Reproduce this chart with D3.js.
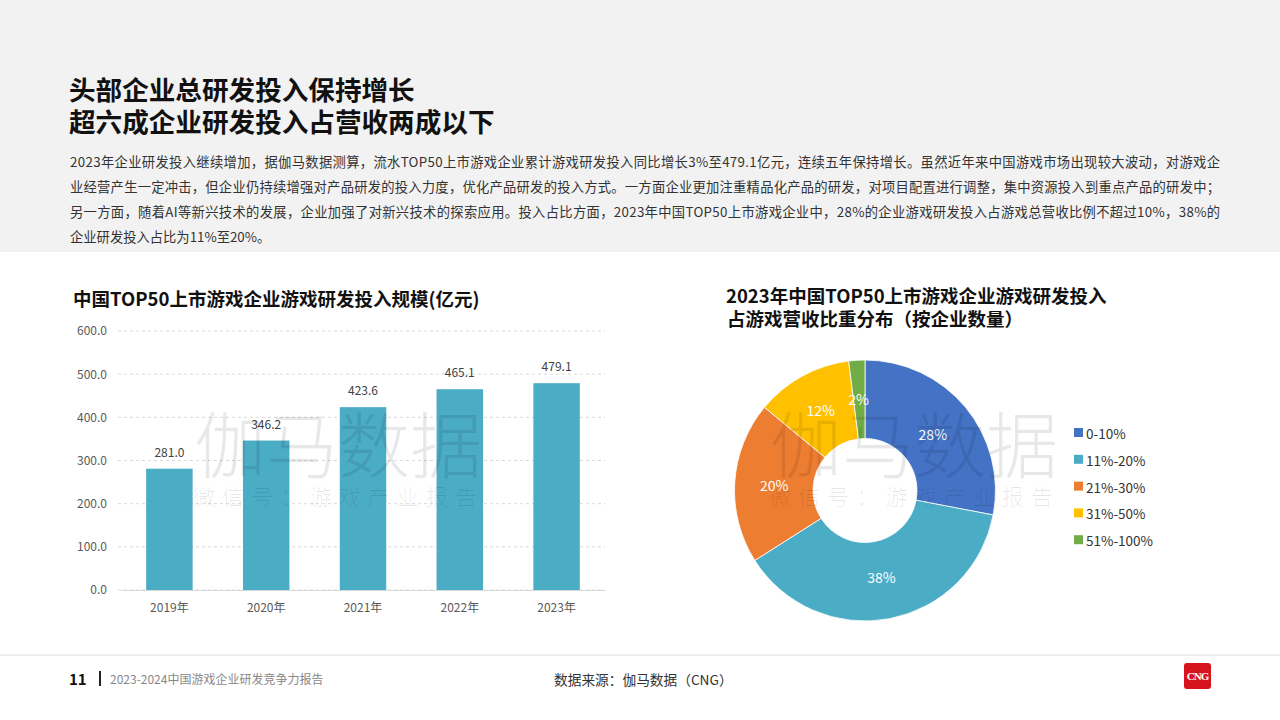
<!DOCTYPE html>
<html><head><meta charset="utf-8">
<script src="https://cdn.jsdelivr.net/npm/d3@7"></script>
<style>
html,body{margin:0;padding:0;background:#fff;}
svg{display:block;font-family:"Noto Sans CJK SC","Noto Sans",sans-serif;}
</style></head>
<body><svg id="c" width="1280" height="720"></svg>
<script>
const years = ["2019年","2020年","2021年","2022年","2023年"];
const rdValues = [281.0,346.2,423.6,465.1,479.1];
const yTicks = [0,100,200,300,400,500,600];
const shareLabels = ["0-10%","11%-20%","21%-30%","31%-50%","51%-100%"];
const shareValues = [28,38,20,12,2];
const shareColors = ["#4472c4","#4bacc6","#ed7d31","#ffc000","#70ad47"];
const titleLines = ["头部企业总研发投入保持增长","超六成企业研发投入占营收两成以下"];
const paraLines = [
"2023年企业研发投入继续增加，据伽马数据测算，流水TOP50上市游戏企业累计游戏研发投入同比增长3%至479.1亿元，连续五年保持增长。虽然近年来中国游戏市场出现较大波动，对游戏企",
"业经营产生一定冲击，但企业仍持续增强对产品研发的投入力度，优化产品研发的投入方式。一方面企业更加注重精品化产品的研发，对项目配置进行调整，集中资源投入到重点产品的研发中；",
"另一方面，随着AI等新兴技术的发展，企业加强了对新兴技术的探索应用。投入占比方面，2023年中国TOP50上市游戏企业中，28%的企业游戏研发投入占游戏总营收比例不超过10%，38%的",
"企业研发投入占比为11%至20%。"];

const svg = d3.select("#c");
svg.append("rect").attr("x",0).attr("y",0).attr("width",1280).attr("height",252).attr("fill","#f2f2f2");

titleLines.forEach((t,i)=>svg.append("text").attr("x",69).attr("y",100+i*32)
  .attr("font-size",26.6).attr("font-weight",700).attr("fill","#111").text(t));
paraLines.forEach((t,i)=>{
  const tx = svg.append("text").attr("x",70).attr("y",167+i*25)
    .attr("font-size",13.3).attr("fill","#333").text(t);
  if (i < 3) tx.attr("textLength",1150).attr("lengthAdjust","spacing");
});

// watermark helper
function watermark(x,y){
  const g = svg.append("g").attr("pointer-events","none");
  g.append("text").attr("x",x).attr("y",y).attr("font-size",72).attr("font-weight",300)
   .attr("fill","rgba(0,0,0,0.09)").text("伽马数据");
  g.append("text").attr("x",x-1).attr("y",y+33).attr("font-size",22).attr("font-weight",300)
   .attr("fill","rgba(0,0,0,0.09)").attr("letter-spacing",7.1).text("微信号：游戏产业报告");
}

// Bar chart
svg.append("text").attr("x",73).attr("y",306).attr("font-size",18.5).attr("font-weight",700)
  .attr("fill","#111").text("中国TOP50上市游戏企业游戏研发投入规模(亿元)");
const x = d3.scaleBand().domain(years).range([121,605]).paddingInner(0.52).paddingOuter(0.26);
const y = d3.scaleLinear().domain([0,600]).range([590,331]);
const gGrid = svg.append("g");
gGrid.selectAll("line").data(yTicks).join("line")
  .attr("x1",118).attr("x2",605).attr("y1",d=>y(d)).attr("y2",d=>y(d))
  .attr("stroke","#d9d9d9").attr("stroke-dasharray","3,3");
const yAxis = svg.append("g").attr("transform","translate(110,0)")
  .call(d3.axisLeft(y).tickValues(yTicks).tickFormat(d3.format(".1f")).tickSize(0));
yAxis.select(".domain").remove();
yAxis.selectAll("text").attr("font-size",12).attr("fill","#595959").attr("font-family","Noto Sans CJK SC");
svg.selectAll(".bar").data(rdValues).join("rect").attr("class","bar")
  .attr("x",(d,i)=>x(years[i])).attr("width",x.bandwidth())
  .attr("y",d=>y(d)).attr("height",d=>y(0)-y(d)).attr("fill","#4bacc6");
svg.selectAll(".vl").data(rdValues).join("text").attr("class","vl")
  .attr("x",(d,i)=>x(years[i])+x.bandwidth()/2).attr("y",d=>y(d)-12)
  .attr("text-anchor","middle").attr("font-size",12).attr("fill","#404040").text(d=>d.toFixed(1));
const xAxis = svg.append("g").attr("transform","translate(0,590)")
  .call(d3.axisBottom(x).tickSize(0).tickPadding(13));
xAxis.select(".domain").attr("stroke","#d9d9d9");
xAxis.selectAll("text").attr("font-size",12).attr("fill","#595959").attr("font-family","Noto Sans CJK SC");
watermark(194,472);

// Donut
svg.append("text").attr("x",726).attr("y",303).attr("font-size",18.5).attr("font-weight",700)
  .attr("fill","#111").text("2023年中国TOP50上市游戏企业游戏研发投入");
svg.append("text").attr("x",727).attr("y",326).attr("font-size",18.5).attr("font-weight",700)
  .attr("fill","#111").text("占游戏营收比重分布（按企业数量）");
const cx=865, cy=490.5, R=130.5, r0=52;
const pie = d3.pie().sort(null).value(d=>d)(shareValues);
const arc = d3.arc().innerRadius(r0).outerRadius(R);
const lab = d3.arc().innerRadius(88).outerRadius(88);
const gD = svg.append("g").attr("transform",`translate(${cx},${cy})`);
gD.selectAll("path").data(pie).join("path").attr("d",arc)
  .attr("fill",(d,i)=>shareColors[i]).attr("stroke","#fff").attr("stroke-width",0.8);
const labOff = [[0,0],[0,0],[-3,0],[-2,-3],[-1,-4]];
gD.selectAll(".pl").data(pie).join("text").attr("class","pl")
  .attr("transform",(d,i)=>{const c=lab.centroid(d);return `translate(${c[0]+labOff[i][0]},${c[1]+labOff[i][1]})`;})
  .attr("text-anchor","middle").attr("dominant-baseline","central")
  .attr("font-size",14).attr("fill","#fff").text(d=>d.data+"%");
const gL = svg.append("g");
shareLabels.forEach((t,i)=>{
  const yy = 433 + i*26.8;
  gL.append("rect").attr("x",1074).attr("y",yy-5).attr("width",9).attr("height",9).attr("fill",shareColors[i]);
  gL.append("text").attr("x",1086).attr("y",yy).attr("dominant-baseline","central")
    .attr("font-size",13.5).attr("fill","#333").text(t);
});
watermark(770,472);

// Footer
svg.append("line").attr("x1",0).attr("x2",1280).attr("y1",655).attr("y2",655).attr("stroke","#dcdcdc");
svg.append("text").attr("x",69).attr("y",685).attr("font-size",15).attr("font-weight",700).attr("fill","#111").text("11");
svg.append("rect").attr("x",99).attr("y",671).attr("width",2).attr("height",15).attr("fill","#222");
svg.append("text").attr("x",110).attr("y",684).attr("font-size",12).attr("fill","#888").text("2023-2024中国游戏企业研发竞争力报告");
svg.append("text").attr("x",554).attr("y",685).attr("font-size",13.7).attr("fill","#333").text("数据来源：伽马数据（CNG）");
const lg = svg.append("g").attr("transform","translate(1184,663)");
lg.append("rect").attr("width",27).attr("height",26).attr("rx",3).attr("fill","#d7131f");
lg.append("text").attr("x",13.5).attr("y",17).attr("text-anchor","middle").attr("font-size",11)
  .attr("font-weight",700).attr("fill","#fff").attr("font-family","Liberation Serif").attr("letter-spacing",-1).text("CNG");
</script></body></html>
